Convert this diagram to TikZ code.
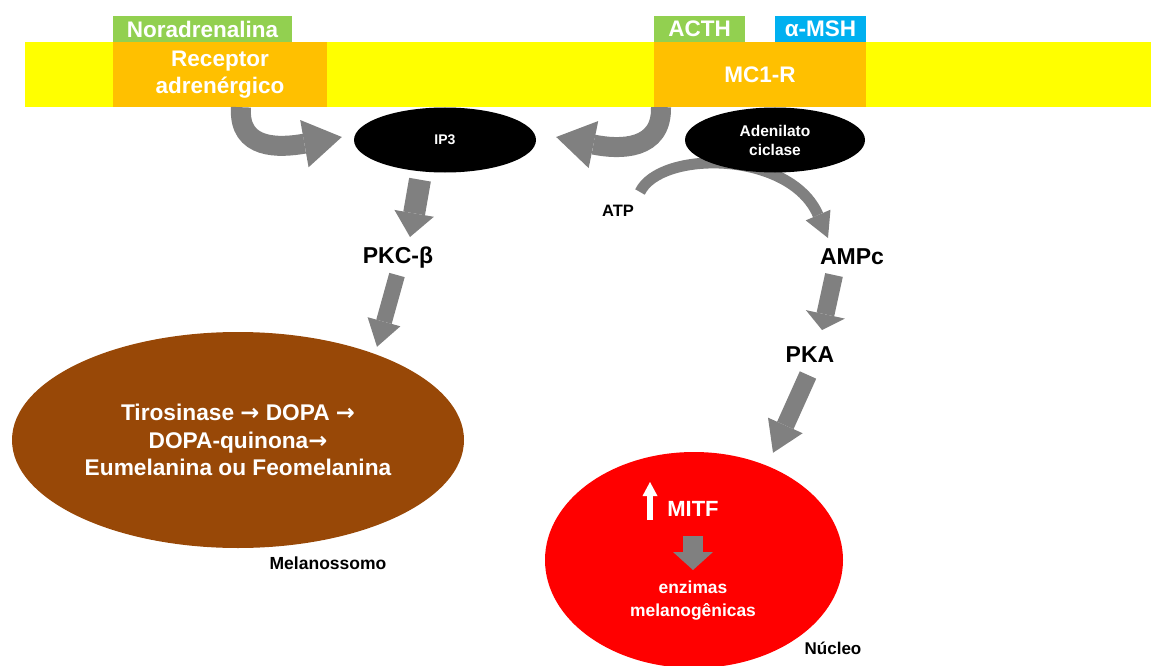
\documentclass[tikz,border=0pt]{standalone}
\usepackage{fontspec}
\setmainfont{Liberation Sans}
\newfontfamily\setafont{DejaVu Sans}
\usetikzlibrary{arrows.meta,shapes.geometric}

\definecolor{amarelo}{HTML}{FFFF00}
\definecolor{laranja}{HTML}{FFC000}
\definecolor{verde}{HTML}{92D050}
\definecolor{azul}{HTML}{00B0F0}
\definecolor{marrom}{HTML}{984807}
\definecolor{vermelho}{HTML}{FF0000}
\definecolor{cinza}{HTML}{808080}

\newcommand{\passo}{{\setafont\bfseries →}}

\begin{document}
\begin{tikzpicture}[x=1pt,y=-1pt,
    caixa/.style={fill=laranja, text=white, font=\fontsize{22.5}{27}\selectfont\bfseries, align=center, inner sep=0pt, minimum height=65pt},
    ligante/.style={text=white, font=\fontsize{22.5}{27}\selectfont\bfseries, inner sep=0pt, minimum height=26pt},
    enzima/.style={ellipse, fill=black, text=white, font=\fontsize{15.5}{19}\selectfont\bfseries, align=center, inner sep=0pt, minimum width=182pt, minimum height=65pt},
    rotulo/.style={font=\fontsize{23}{27}\selectfont\bfseries, inner sep=1pt},
    legenda/.style={font=\fontsize{17.5}{21}\selectfont\bfseries, inner sep=1pt},
    seta/.style={draw=cinza, line width=18pt, -{Triangle[length=24pt,width=40pt,line width=0pt]}},
    setacurva/.style={draw=cinza, line width=20pt, -{Triangle[length=38pt,width=48pt,line width=0pt]}},
    setafina/.style={draw=cinza, line width=11pt, -{Triangle[length=25pt,width=27pt,line width=0pt]}},
    setabranca/.style={draw=white, line width=6pt, -{Triangle[length=14pt,width=15pt,line width=0pt]}}]
    \useasboundingbox (0,0) rectangle (1151,666);

    % membrana
    \fill[amarelo] (25,42) rectangle (1151,107);

    \node[caixa, minimum width=214pt] (receptor) at (220,74.5) {Receptor\\adren\'ergico};
    \node[caixa, minimum width=212pt] (mc1r) at (760,74.5) {MC1-R};
    \node[ligante, fill=verde, minimum width=179pt] (noradrenalina) at (202.5,29) {Noradrenalina};
    \node[ligante, fill=verde, minimum width=91pt] (acth) at (699.5,29) {ACTH};
    \node[ligante, fill=azul, minimum width=91pt] (msh) at (820.5,29) {α-MSH};

    \node[enzima] (ip3) at (445,140) {\fontsize{14}{17}\selectfont IP3};
    \node[legenda, font=\fontsize{16.5}{20}\selectfont\bfseries] (atp) at (618,211) {ATP};
    \node[rotulo] (ampc) at (852,257) {AMPc};
    \node[rotulo] (pka) at (810,355) {PKA};
    \node[rotulo] (pkc) at (398,258) {PKC-β};

    % ATP passa por tras da adenilato ciclase
    \draw[setafina] ([shift={(22,-19)}]atp.center) .. controls +(20,-42) and +(-38,-88) .. ([shift={(-24,-19)}]ampc.center);
    \node[enzima, minimum width=180pt] (adenilato) at (775,140) {Adenilato\\ciclase};

    \draw[setacurva] ([shift={(21,0)}]receptor.south) .. controls +(-3,43) and +(-62,11) .. ([shift={(-12,-3)}]ip3.west);
    \draw[setacurva] ([shift={(-99,0)}]mc1r.south) .. controls +(1,43) and +(64,13) .. ([shift={(20,-3)}]ip3.east);

    \node[ellipse, fill=marrom, text=white, font=\fontsize{22.7}{27.5}\selectfont\bfseries, align=center, inner sep=0pt, minimum width=452pt, minimum height=216pt] (melano) at (238,440) {Tirosinase \passo{} DOPA \passo\\DOPA-quinona\passo\\Eumelanina ou Feomelanina};
    \node[legenda] (melanossomo) at (328,563) {Melanossomo};

    \node[ellipse, fill=vermelho, inner sep=0pt, minimum width=298pt, minimum height=216pt] (nucleo) at (694,560) {};
    \node[rotulo, text=white, font=\fontsize{22}{26}\selectfont\bfseries] (mitf) at (693,509) {MITF};
    \node[legenda, text=white, align=center, font=\fontsize{17.4}{23}\selectfont\bfseries] (enzimas) at (693,601) {enzimas\\melanog\^enicas};
    \node[legenda, font=\fontsize{17}{20}\selectfont\bfseries] (nucleolabel) at (833,648) {N\'ucleo};

    \draw[seta, line width=22pt] ([shift={(-25,7)}]ip3.south) -- ([shift={(12,-21)}]pkc.center);
    \draw[seta, line width=16pt, -{Triangle[length=26pt,width=34pt,line width=0pt]}] ([shift={(-1,17)}]pkc.center) -- ([shift={(139,15)}]melano.north);
    \draw[seta, -{Triangle[length=16pt,width=40pt,line width=0pt]}] ([shift={(-18,18)}]ampc.center) -- ([shift={(12,-25)}]pka.center);
    \draw[seta, -{Triangle[length=30pt,width=38pt,line width=0pt]}] ([shift={(-2,20)}]pka.center) -- ([shift={(79,1)}]nucleo.north);

    \draw[setabranca] ([shift={(-43,11)}]mitf.center) -- ([shift={(-43,-27)}]mitf.center);
    \draw[seta, line width=20pt, -{Triangle[length=18pt,width=40pt,line width=0pt]}] ([shift={(0,27)}]mitf.center) -- ([shift={(0,-31)}]enzimas.center);
\end{tikzpicture}
\end{document}
